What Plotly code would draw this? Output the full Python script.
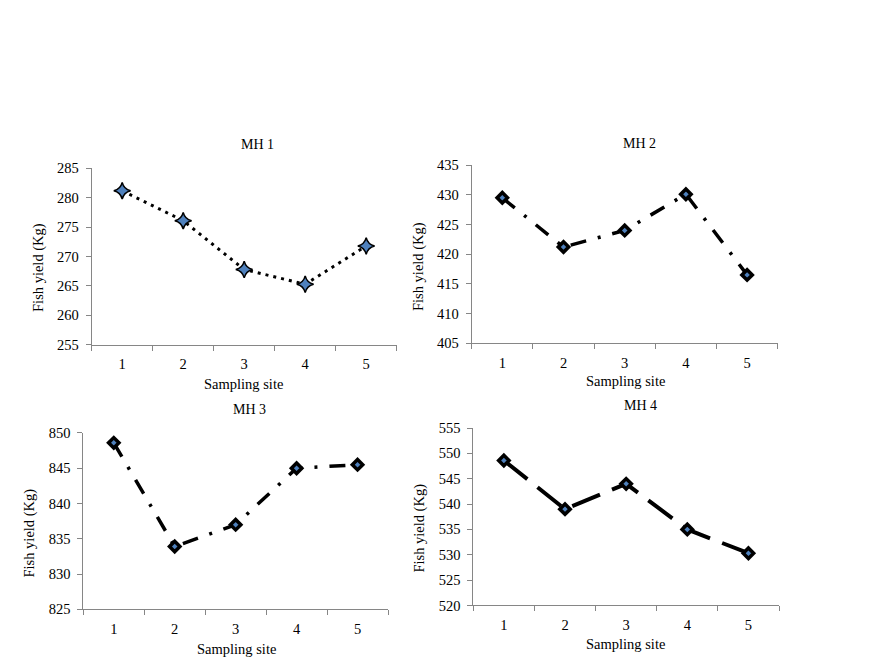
import plotly.graph_objects as go

W, H = 870, 672

sites = [1, 2, 3, 4, 5]
site_labels = ["1", "2", "3", "4", "5"]
panel_titles = ["MH 1", "MH 2", "MH 3", "MH 4"]
mh1 = [281.2, 276.1, 267.8, 265.3, 271.8]
mh2 = [429.5, 421.2, 424.0, 430.1, 416.5]
mh3 = [848.6, 833.9, 837.0, 845.0, 845.5]
mh4 = [548.6, 539.0, 544.0, 535.0, 530.3]
y_ranges = [(255, 285), (405, 435), (825, 850), (520, 555)]
x_title = "Sampling site"
y_title = "Fish yield (Kg)"

series = [mh1, mh2, mh3, mh4]

# plot-area pixel boxes: (x0, x1, ytop, ybottom)
boxes = [
    (91.7, 396.7, 164.3, 345.0),
    (471.7, 777.7, 161.0, 343.3),
    (83.3, 388.0, 435.3, 616.0),
    (473.3, 779.0, 430.3, 612.0),
]
title_pos = [(257.7, 139.7), (639.0, 138.3), (250.0, 411.7), (640.0, 406.7)]
xtitle_pos = [(243.0, 385.0), (625.0, 381.7), (236.0, 656.7), (625.7, 651.7)]
ytitle_pos = [(38.3, 266.0), (418.3, 265.0), (29.3, 538.0), (419.3, 533.0)]

dashes = ["3px,5px", "16px,12px,3px,12px", "16px,12px,3px,12px", "30px,13px"]
widths = [3, 3.5, 3.5, 4]

FONT = "Liberation Serif, Times New Roman, serif"
AXC = "#868686"

fig = go.Figure()
layout = dict(
    width=W, height=H, margin=dict(l=0, r=0, t=0, b=0),
    paper_bgcolor="white", plot_bgcolor="white", showlegend=False,
    font=dict(family=FONT, color="black"),
)
annotations = []

for i, (vals, box) in enumerate(zip(series, boxes)):
    n = i + 1
    xa = "x" if n == 1 else f"x{n}"
    ya = "y" if n == 1 else f"y{n}"
    if i == 0:
        marker = dict(symbol="star-diamond", size=12, color="#4F81BD",
                      line=dict(color="black", width=1.5))
    else:
        marker = dict(symbol="diamond", size=8, color="#4F81BD",
                      line=dict(color="black", width=3.5))
    fig.add_trace(go.Scatter(
        x=sites, y=vals, mode="lines+markers",
        line=dict(color="black", width=widths[i], dash=dashes[i]),
        marker=marker, xaxis=xa, yaxis=ya, cliponaxis=False,
    ))
    x0, x1, yt, yb = box
    layout["xaxis" if n == 1 else f"xaxis{n}"] = dict(
        domain=[x0 / W, x1 / W], anchor=ya, range=[0.5, 5.5],
        tickmode="array", tickvals=sites, ticktext=site_labels,
        ticks="outside", ticklen=0, tickcolor=AXC,
        showline=True, linecolor=AXC, linewidth=1,
        showgrid=False, zeroline=False, ticklabelstandoff=6,
        tickfont=dict(size=14.5, family=FONT, color="black"),
        minor=dict(tickmode="linear", tick0=0.5, dtick=1, ticks="outside",
                   ticklen=5, tickcolor=AXC, tickwidth=1, showgrid=False),
        fixedrange=True,
    )
    y0, y1r = y_ranges[i]
    layout["yaxis" if n == 1 else f"yaxis{n}"] = dict(
        domain=[1 - yb / H, 1 - yt / H], anchor=xa, range=[y0, y1r],
        tickmode="linear", tick0=y0, dtick=5,
        ticks="outside", ticklen=5, tickcolor=AXC, tickwidth=1,
        showline=True, linecolor=AXC, linewidth=1,
        showgrid=False, zeroline=False, ticklabelstandoff=4,
        tickfont=dict(size=14.5, family=FONT, color="black"),
        fixedrange=True,
    )
    tx, ty = title_pos[i]
    annotations.append(dict(text=panel_titles[i], x=tx / W, y=1 - ty / H,
                            xref="paper", yref="paper", showarrow=False,
                            xanchor="center", yanchor="middle",
                            font=dict(size=14, family=FONT, color="black")))
    ax, ay = xtitle_pos[i]
    annotations.append(dict(text=x_title, x=ax / W, y=1 - ay / H,
                            xref="paper", yref="paper", showarrow=False,
                            xanchor="center", yanchor="middle",
                            font=dict(size=14.5, family=FONT, color="black")))
    bx, by = ytitle_pos[i]
    annotations.append(dict(text=y_title, x=bx / W, y=1 - by / H,
                            xref="paper", yref="paper", showarrow=False,
                            xanchor="center", yanchor="middle", textangle=-90,
                            font=dict(size=14.5, family=FONT, color="black")))

layout["annotations"] = annotations
fig.update_layout(**layout)
fig.write_html("out.html", config={"displayModeBar": False, "staticPlot": True})

# remove the default page margin so the figure sits at the window origin
with open("out.html", "r", encoding="utf-8") as f:
    html = f.read()
html = html.replace("<head>", "<head><style>html,body{margin:0;padding:0;overflow:hidden;}</style>", 1)
with open("out.html", "w", encoding="utf-8") as f:
    f.write(html)
